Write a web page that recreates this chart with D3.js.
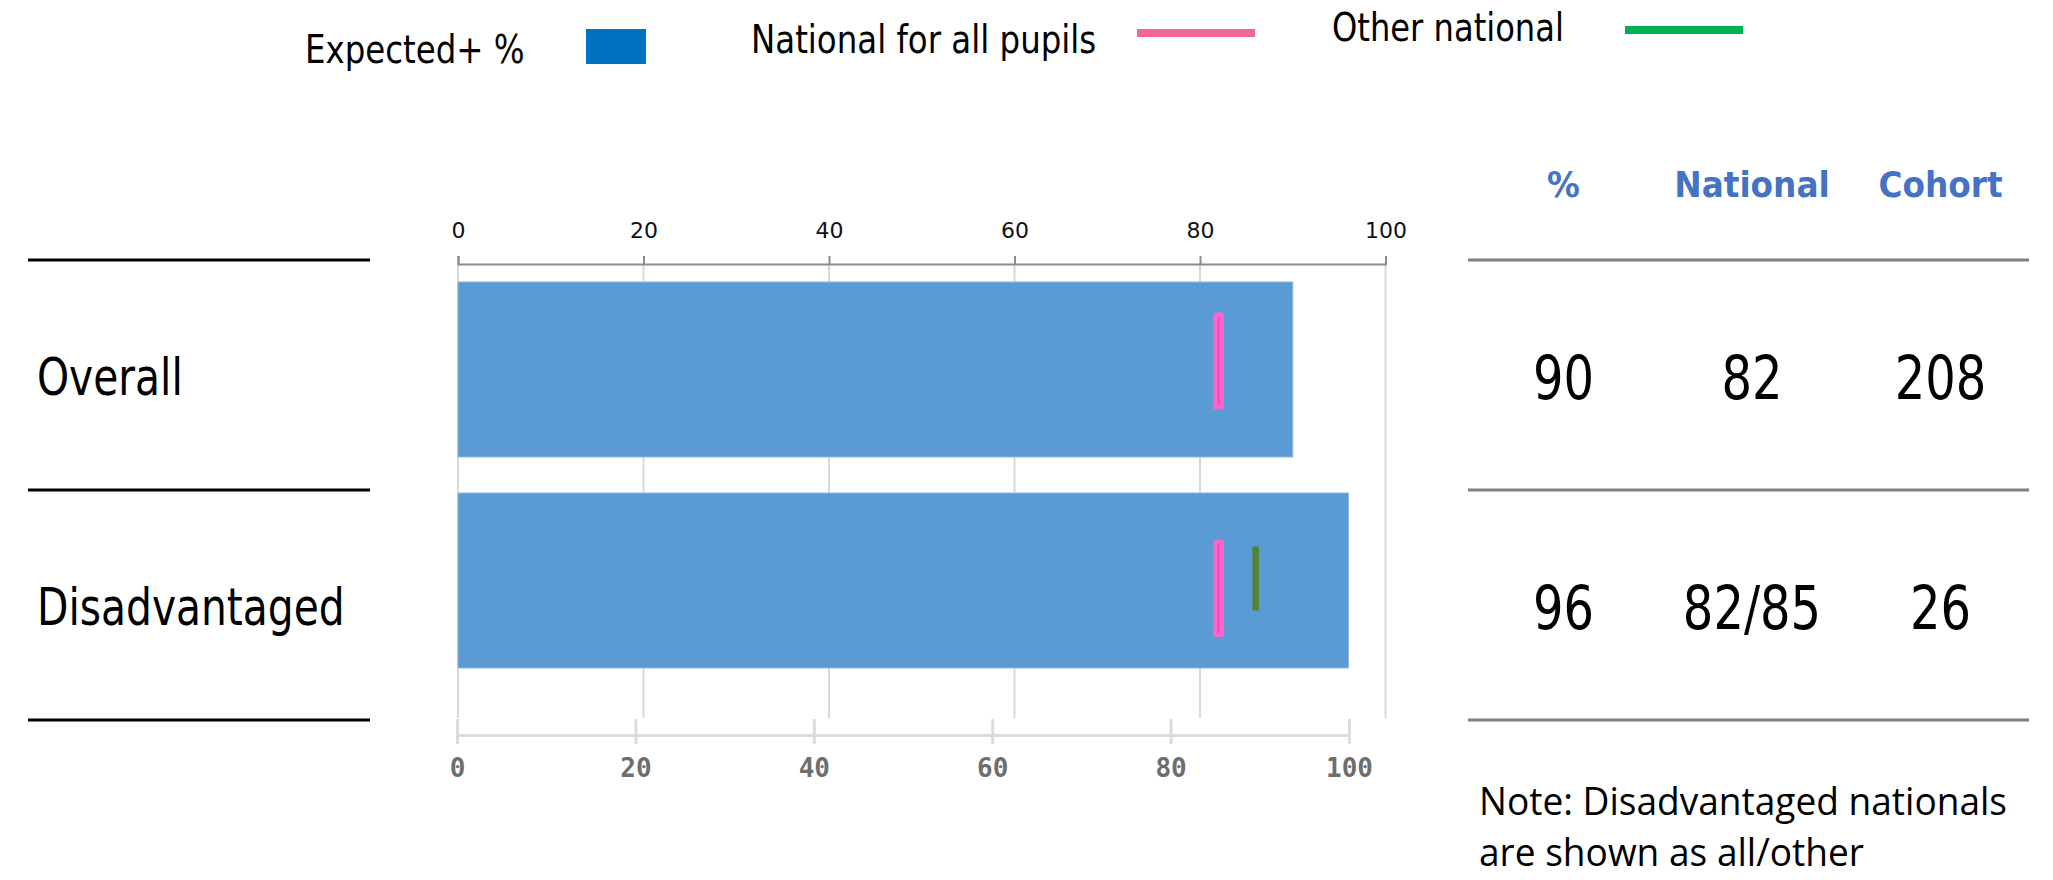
<!DOCTYPE html>
<html>
<head>
<meta charset="utf-8">
<script src="https://cdn.jsdelivr.net/npm/d3@7"></script>
<style>
  html, body { margin: 0; padding: 0; background: #fff; }
  svg { display: block; }
</style>
</head>
<body>
<svg id="chart" width="2053" height="880"></svg>
<script>
// ---- data ----
const categories = ["Overall", "Disadvantaged"];
const expectedPct = [90, 96];
const nationalAll = [82, 82];
const otherNational = [null, 86];
const tableHeaders = ["%", "National", "Cohort"];
const tablePct = ["90", "96"];
const tableNational = ["82", "82/85"];
const tableCohort = ["208", "26"];
const xTicks = [0, 20, 40, 60, 80, 100];
const legendLabels = ["Expected+ %", "National for all pupils", "Other national"];
const noteLines = ["Note: Disadvantaged nationals", "are shown as all/other"];

// ---- setup ----
const svg = d3.select("#chart");
svg.append("rect").attr("width", 2053).attr("height", 880).attr("fill", "#fff");

const FONT = "'DejaVu Sans', Verdana, sans-serif";

const x = d3.scaleLinear().domain([0, 100]).range([458, 1385.5]);
const xBottom = d3.scaleLinear().domain([0, 100]).range([457, 1349]);
const yBar = d3.scaleBand().domain(categories).range([264, 686]).paddingInner(0.1706).paddingOuter(0.0853);
const yMark = d3.scaleBand().domain(categories).range([247.25, 702.25]).padding(0);
const yRow = d3.scaleBand().domain(categories).range([260, 720]).padding(0);
const col = d3.scalePoint().domain(tableHeaders).range([1563.5, 1940.5]);

// ---- legend ----
const leg = svg.append("g");
leg.append("text").text(legendLabels[0])
  .attr("transform", "translate(305,63) scale(0.845,1)")
  .attr("font-family", FONT).attr("font-size", 38.4).attr("fill", "#000");
leg.append("rect").attr("x", 586).attr("y", 29).attr("width", 60).attr("height", 35).attr("fill", "#0070C0");
leg.append("text").text(legendLabels[1])
  .attr("transform", "translate(751,52.7) scale(0.845,1)")
  .attr("font-family", FONT).attr("font-size", 38.4).attr("fill", "#000");
leg.append("line").attr("x1", 1137).attr("x2", 1255).attr("y1", 33).attr("y2", 33)
  .attr("stroke", "#F06891").attr("stroke-width", 8);
leg.append("text").text(legendLabels[2])
  .attr("transform", "translate(1332,41) scale(0.838,1)")
  .attr("font-family", FONT).attr("font-size", 38.4).attr("fill", "#000");
leg.append("line").attr("x1", 1625).attr("x2", 1743).attr("y1", 30).attr("y2", 30)
  .attr("stroke", "#00B050").attr("stroke-width", 8);

// ---- gridlines ----
svg.append("g").selectAll("line").data(xTicks).join("line")
  .attr("x1", d => x(d)).attr("x2", d => x(d))
  .attr("y1", 264).attr("y2", 718)
  .attr("stroke", "#d9d9d9").attr("stroke-width", 2);

// ---- top axis ----
const topAxis = svg.append("g").attr("transform", "translate(0,264)")
  .call(d3.axisTop(x).tickValues(xTicks).tickSize(8).tickPadding(18).tickFormat(d3.format("d")));
topAxis.select(".domain").attr("stroke", "#8c8c8c").attr("stroke-width", 2);
topAxis.selectAll(".tick line").attr("stroke", "#8c8c8c").attr("stroke-width", 2);
topAxis.selectAll(".tick text").attr("font-family", FONT).attr("font-size", 22).attr("fill", "#111");

// ---- bars ----
svg.append("g").selectAll("rect").data(categories).join("rect")
  .attr("x", x(0))
  .attr("y", d => yBar(d))
  .attr("width", (d, i) => x(expectedPct[i]) - x(0))
  .attr("height", yBar.bandwidth())
  .attr("fill", "#5B9BD5")
  .attr("stroke", "#8DB7E2").attr("stroke-width", 1);

// ---- national markers ----
const mk = svg.append("g");
mk.selectAll("rect.nat").data(categories).join("rect").attr("class", "nat")
  .attr("x", (d, i) => x(nationalAll[i]) - 5.3)
  .attr("y", d => yMark(d) + yMark.bandwidth() / 2 - 48.5)
  .attr("width", 10.6).attr("height", 97).attr("rx", 3)
  .attr("fill", "#FF66CC");
mk.selectAll("line.natin").data(categories).join("line").attr("class", "natin")
  .attr("x1", (d, i) => x(nationalAll[i])).attr("x2", (d, i) => x(nationalAll[i]))
  .attr("y1", d => yMark(d) + yMark.bandwidth() / 2 - 44)
  .attr("y2", d => yMark(d) + yMark.bandwidth() / 2 + 44)
  .attr("stroke", "#E84DB5").attr("stroke-width", 2);
mk.selectAll("rect.oth").data(categories.filter((d, i) => otherNational[i] != null)).join("rect").attr("class", "oth")
  .attr("x", d => x(otherNational[categories.indexOf(d)]) - 3.2)
  .attr("y", d => yMark(d) + yMark.bandwidth() / 2 - 42)
  .attr("width", 6.4).attr("height", 64)
  .attr("fill", "#548235");

// ---- bottom axis ----
const botAxis = svg.append("g").attr("transform", "translate(0,735)")
  .call(d3.axisBottom(xBottom).tickValues(xTicks).tickSize(9).tickSizeOuter(0).tickFormat(d3.format("d")));
botAxis.select(".domain").attr("stroke", "#dcdcdc").attr("stroke-width", 3);
botAxis.selectAll(".tick line").attr("stroke", "#dcdcdc").attr("stroke-width", 3).attr("y1", -16).attr("y2", 9);
botAxis.selectAll(".tick text")
  .attr("font-family", "'DejaVu Sans Mono', 'Liberation Mono', monospace")
  .attr("font-weight", "bold").attr("font-size", 26).attr("fill", "#6e6e6e")
  .attr("dy", null).attr("y", 42);

// ---- left category labels and lines ----
const left = svg.append("g");
left.selectAll("text").data(categories).join("text")
  .text(d => d)
  .attr("transform", d => `translate(37,${yRow(d) + yRow.bandwidth() / 2 + 20}) scale(0.8,1)`)
  .attr("font-family", FONT).attr("font-size", 51).attr("fill", "#000");
const rowEdges = [yRow.range()[0]].concat(categories.map(d => yRow(d) + yRow.bandwidth()));
left.selectAll("line").data(rowEdges).join("line")
  .attr("x1", 28).attr("x2", 370).attr("y1", d => d).attr("y2", d => d)
  .attr("stroke", "#000").attr("stroke-width", 3.2);

// ---- right table ----
const tbl = svg.append("g");
tbl.selectAll("text.hdr").data(tableHeaders).join("text").attr("class", "hdr")
  .text(d => d)
  .attr("transform", d => `translate(${col(d)},197) scale(0.91,1)`)
  .attr("text-anchor", "middle")
  .attr("font-family", FONT).attr("font-weight", "bold").attr("font-size", 36).attr("fill", "#4472C4");
tbl.selectAll("line").data(rowEdges).join("line")
  .attr("x1", 1468).attr("x2", 2029).attr("y1", d => d).attr("y2", d => d)
  .attr("stroke", "#808080").attr("stroke-width", 3);
const cells = [];
categories.forEach((c, i) => {
  cells.push({ row: c, col: tableHeaders[0], v: tablePct[i] });
  cells.push({ row: c, col: tableHeaders[1], v: tableNational[i] });
  cells.push({ row: c, col: tableHeaders[2], v: tableCohort[i] });
});
tbl.selectAll("text.val").data(cells).join("text").attr("class", "val")
  .text(d => d.v)
  .attr("transform", d => `translate(${col(d.col)},${yRow(d.row) + yRow.bandwidth() / 2 + 23.5}) scale(0.8,1)`)
  .attr("text-anchor", "middle")
  .attr("font-family", FONT).attr("font-size", 60).attr("fill", "#000");

// ---- note ----
const noteWidths = [528, 385];
svg.append("g").selectAll("text").data(noteLines).join("text")
  .text(d => d)
  .attr("x", 1479).attr("y", (d, i) => 815 + i * 51)
  .attr("textLength", (d, i) => noteWidths[i]).attr("lengthAdjust", "spacingAndGlyphs")
  .attr("font-family", "'Open Sans', 'Noto Sans', sans-serif").attr("font-size", 39).attr("fill", "#000");
</script>
</body>
</html>
